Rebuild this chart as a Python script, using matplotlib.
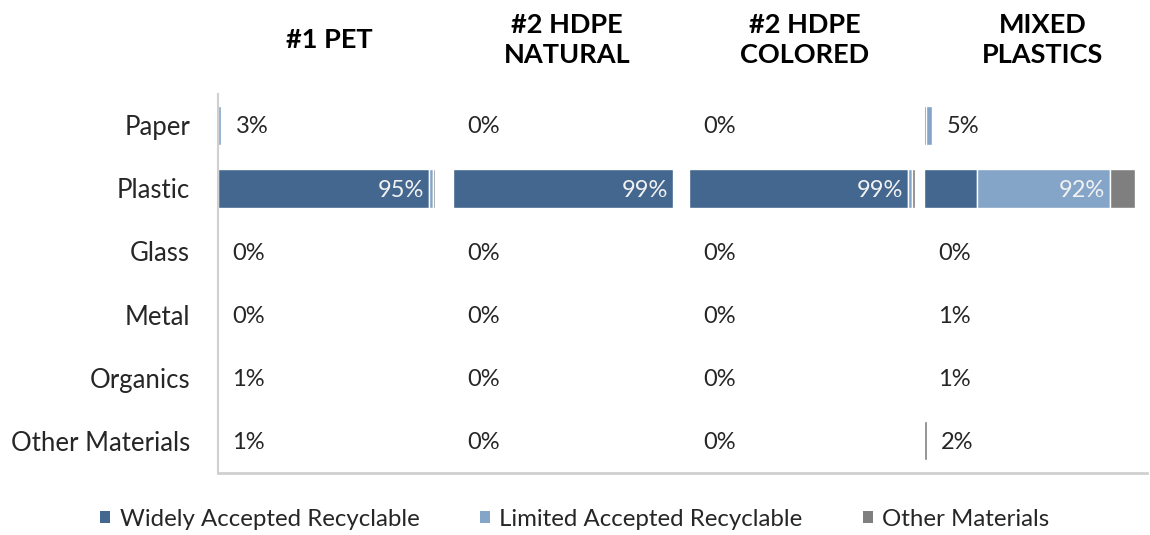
import matplotlib
matplotlib.use("Agg")
import matplotlib.pyplot as plt
from matplotlib.patches import Patch

plt.rcParams['font.family'] = ['Lato', 'DejaVu Sans']

# Panels (plastic grades) and material rows
panels = ["#1 PET", "#2 HDPE\nNATURAL", "#2 HDPE\nCOLORED", "MIXED\nPLASTICS"]
materials = ["Paper", "Plastic", "Glass", "Metal", "Organics", "Other Materials"]
series = ["Widely Accepted Recyclable", "Limited Accepted Recyclable", "Other Materials"]

# Segment widths (%) per panel, one list per material row
widely = [
    [0, 95, 0, 0, 0, 0],      # #1 PET
    [0, 99, 0, 0, 0, 0],      # #2 HDPE natural
    [0, 99, 0, 0, 0, 0],      # #2 HDPE colored
    [1.0, 24, 0, 0, 0, 0],    # mixed plastics
]
limited = [
    [1.5, 2.0, 0, 0, 0, 0],
    [0, 0, 0, 0, 0, 0],
    [0, 1.5, 0, 0, 0, 0],
    [2.8, 60, 0, 0, 0, 0],
]
other = [
    [0, 0.9, 0, 0, 0, 0],
    [0, 0, 0, 0, 0, 0],
    [0, 1.5, 0, 0, 0, 0],
    [0, 11, 0, 0, 0, 1.3],
]
# Value labels per panel and row
value_labels = [
    ["3%", "95%", "0%", "0%", "1%", "1%"],
    ["0%", "99%", "0%", "0%", "0%", "0%"],
    ["0%", "99%", "0%", "0%", "0%", "0%"],
    ["5%", "92%", "0%", "1%", "1%", "2%"],
]

colors = ["#44678f", "#84a4c8", "#7f7f7f"]
text_dark = "#262626"
panel_step = 106.0
bar_h = 0.62

fig = plt.figure(figsize=(11.5, 5.35), dpi=100)
ax = fig.add_axes([218 / 1150, 1 - 472.5 / 535, (1147 - 218) / 1150, (472.5 - 93.5) / 535])

n = len(materials)
ys = list(range(n))

for p in range(len(panels)):
    base = p * panel_step
    for r in range(n):
        segs = [widely[p][r], limited[p][r], other[p][r]]
        left = base
        for v, c in zip(segs, colors):
            if v > 0:
                ax.barh(r, v, left=left, height=bar_h, color=c,
                        edgecolor="white", linewidth=1.0, zorder=2)
            left += v
        total = sum(segs)
        label = value_labels[p][r]
        if total >= 50:
            # label inside the end of the largest segment
            k = max(range(3), key=lambda i: segs[i])
            end = base + sum(segs[:k + 1])
            ax.text(end - 2.2, r + 0.03, label, ha="right", va="center",
                    color="#f2f2f2", fontsize=17, zorder=3)
        else:
            ax.text(base + total + 6.5, r + 0.03, label, ha="left", va="center",
                    color=text_dark, fontsize=17, zorder=3)
    # panel heading
    ax.text(base + 50 + 1.2 * p, -1.35, panels[p], ha="center", va="center",
            fontsize=19.5, fontweight="bold", color="black",
            linespacing=1.32, clip_on=False)

ax.set_xlim(0, 418.5)
ax.set_ylim(n - 0.5, -0.5)
ax.set_yticks(ys)
ax.set_yticklabels(materials, fontsize=18.5, color=text_dark)
ax.tick_params(axis="y", length=0, pad=20)
ax.set_xticks([])
for s in ["top", "right"]:
    ax.spines[s].set_visible(False)
ax.spines["left"].set_color("#d0d0d0")
ax.spines["left"].set_linewidth(1.5)
ax.spines["bottom"].set_color("#d0d0d0")
ax.spines["bottom"].set_linewidth(2.0)

handles = [Patch(facecolor=c, edgecolor="none", label=s) for c, s in zip(colors, series)]
fig.legend(handles=handles, loc="center", bbox_to_anchor=(0.5, 1 - 519 / 535),
           ncol=3, frameon=False, fontsize=17.3, handlelength=0.42, handleheight=0.42,
           handletextpad=0.4, columnspacing=2.5, labelcolor=text_dark)

fig.savefig("out.png", dpi=100, facecolor="white")
